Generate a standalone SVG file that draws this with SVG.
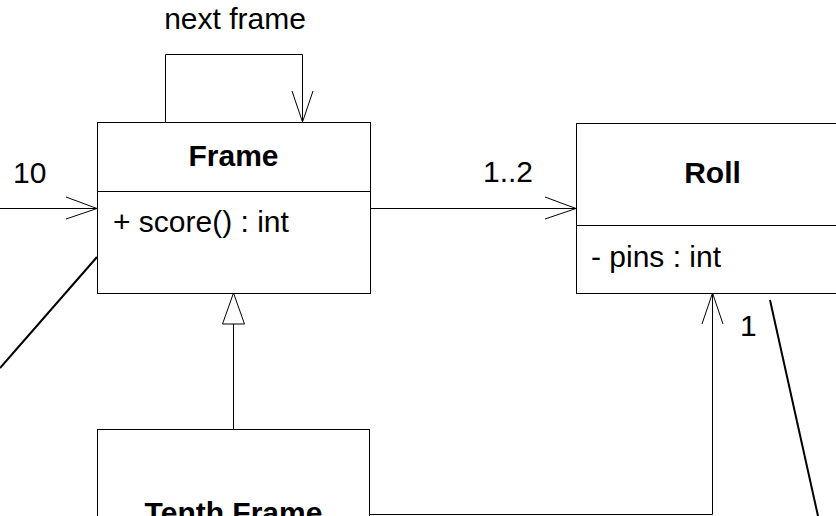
<svg xmlns="http://www.w3.org/2000/svg" width="836" height="516" viewBox="0 0 836 516">
  <style>
    .box { fill: #fff; stroke: #000; stroke-width: 1; }
    .sep { stroke: #000; stroke-width: 1; }
    .line { fill: none; stroke: #000; stroke-width: 1; }
    .link { fill: none; stroke: #000; stroke-width: 2; }
    .head { fill: none; stroke: #000; stroke-width: 1; }
    .tri { fill: #fff; stroke: #000; stroke-width: 1; }
    text { font-family: "Liberation Sans", Arial, sans-serif; font-size: 30px; fill: #000; }
    .title { font-weight: bold; text-anchor: middle; }
  </style>

  <!-- connectors -->
  <g id="connectors">
    <!-- self association: next frame -->
    <polyline class="line" points="165.5,122 165.5,54.5 302.5,54.5 302.5,122"/>
    <polyline class="head" points="292,91 302.5,122 313,91"/>
    <text x="235" y="29" text-anchor="middle">next frame</text>

    <!-- incoming association from the left (10) -->
    <line class="line" x1="0" y1="208.5" x2="97" y2="208.5"/>
    <polyline class="head" points="66,197 97,208.5 66,219"/>
    <text x="13" y="183">10</text>

    <!-- Frame to Roll (1..2) -->
    <line class="line" x1="370" y1="208.5" x2="576" y2="208.5"/>
    <polyline class="head" points="545,197 576,208.5 545,219"/>
    <text x="483" y="182">1..2</text>

    <!-- generalization: Tenth Frame to Frame -->
    <line class="line" x1="233.5" y1="324" x2="233.5" y2="429"/>
    <polygon class="tri" points="233.5,293 222.5,324 244.5,324"/>

    <!-- Tenth Frame to Roll (1) -->
    <polyline class="line" points="370,514.5 712.5,514.5 712.5,293"/>
    <polyline class="head" points="702,324 712.5,293 723,324"/>
    <text x="740" y="336">1</text>

    <!-- diagonal links -->
    <line class="link" x1="97" y1="257" x2="0" y2="368"/>
    <line class="link" x1="770" y1="300" x2="822" y2="534"/>
  </g>

  <!-- Frame class -->
  <g id="frame">
    <rect class="box" x="97.5" y="122.5" width="273" height="171"/>
    <line class="sep" x1="97.5" y1="191.5" x2="370.5" y2="191.5"/>
    <text class="title" x="233.5" y="166">Frame</text>
    <text x="113" y="232">+ score() : int</text>
  </g>

  <!-- Roll class -->
  <g id="roll">
    <rect class="box" x="576.5" y="123.5" width="273" height="170"/>
    <line class="sep" x1="576.5" y1="225.5" x2="849.5" y2="225.5"/>
    <text class="title" x="712.5" y="183">Roll</text>
    <text x="591" y="267">- pins : int</text>
  </g>

  <!-- Tenth Frame class -->
  <g id="tenth-frame">
    <rect class="box" x="97.5" y="429.5" width="272" height="140"/>
    <text class="title" x="233.5" y="523">Tenth Frame</text>
  </g>
</svg>
